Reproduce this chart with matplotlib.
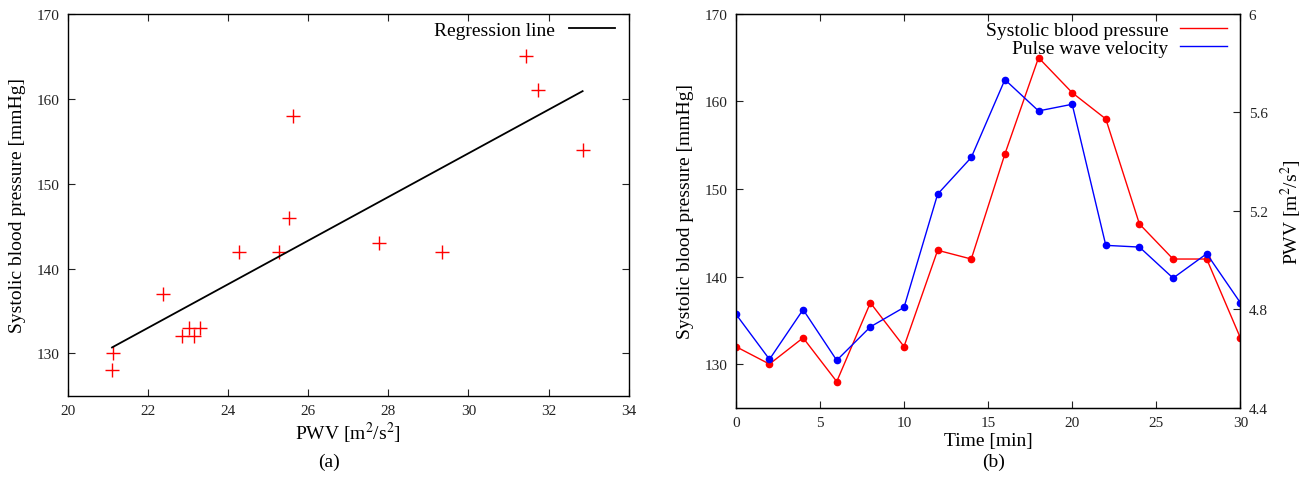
import matplotlib
matplotlib.use("Agg")
import matplotlib.pyplot as plt

# (a) scatter: PWV vs systolic blood pressure
pwv_a = [21.11, 21.13, 22.37, 22.85, 23.03, 23.14, 23.30, 24.28, 25.26, 25.52,
         25.61, 27.76, 29.35, 31.44, 31.73, 32.85]
sbp_a = [128, 130, 137, 132, 133, 132, 133, 142, 142, 146,
         158, 143, 142, 165, 161, 154]
reg_x = [21.1, 32.85]
reg_y = [130.7, 160.9]

# (b) time series
time_min = [0, 2, 4, 6, 8, 10, 12, 14, 16, 18, 20, 22, 24, 26, 28, 30]
sbp_b = [132, 130, 133, 128, 137, 132, 143, 142, 154, 165, 161, 158, 146, 142, 142, 133]
pwv_b = [4.781, 4.597, 4.799, 4.593, 4.729, 4.808, 5.268, 5.417, 5.733, 5.606,
         5.633, 5.060, 5.053, 4.927, 5.026, 4.827]

plt.rcParams["font.family"] = ["Liberation Serif", "DejaVu Serif"]
plt.rcParams["mathtext.fontset"] = "stix"
TICK_FS = 11
LAB_FS = 14

fig = plt.figure(figsize=(13.07, 4.81), dpi=100)

def style(ax, right=True):
    ax.tick_params(direction="in", length=5, width=0.8, labelsize=TICK_FS,
                   top=True, right=right, colors="#222222", pad=6)
    for s in ax.spines.values():
        s.set_linewidth(1.0)

# ---- (a)
ax = fig.add_axes([0.052, 0.175, 0.429, 0.794])
ax.plot(pwv_a, sbp_a, ls="none", marker="+", ms=10, mew=1.0, color="red")
ax.plot(reg_x, reg_y, color="black", lw=1.3, label="Regression line")
ax.set_xlim(20, 34)
ax.set_ylim(125, 170)
ax.set_xticks(range(20, 35, 2))
ax.set_yticks(range(130, 171, 10))
style(ax)
ax.set_xlabel("PWV [m$^2$/s$^2$]", fontsize=LAB_FS, labelpad=2)
ax.set_ylabel("Systolic blood pressure [mmHg]", fontsize=LAB_FS, labelpad=8)
ax.legend(loc="upper right", frameon=False, markerfirst=False, fontsize=LAB_FS,
          handlelength=2.4, borderaxespad=0.0, handletextpad=0.7,
          bbox_to_anchor=(0.99, 1.0))
fig.text(0.252, 0.03, "(a)", ha="center", fontsize=LAB_FS)

# ---- (b)
ax2 = fig.add_axes([0.563, 0.150, 0.386, 0.819])
l1, = ax2.plot(time_min, sbp_b, color="red", lw=1.0, marker="o", ms=4.5,
               label="Systolic blood pressure")
ax2.set_xlim(0, 30)
ax2.set_ylim(125, 170)
ax2.set_xticks(range(0, 31, 5))
ax2.set_yticks(range(130, 171, 10))
style(ax2, right=False)
ax2.set_xlabel("Time [min]", fontsize=LAB_FS, labelpad=2)
ax2.set_ylabel("Systolic blood pressure [mmHg]", fontsize=LAB_FS, labelpad=8)

ax3 = ax2.twinx()
l2, = ax3.plot(time_min, pwv_b, color="blue", lw=1.0, marker="o", ms=4.5,
               label="Pulse wave velocity")
ax3.set_ylim(4.4, 6.0)
ax3.set_yticks([4.4, 4.8, 5.2, 5.6, 6.0])
ax3.set_yticklabels(["4.4", "4.8", "5.2", "5.6", "6"])
ax3.tick_params(direction="in", length=5, width=0.8, labelsize=TICK_FS,
                colors="#222222", pad=6)
ax3.set_ylabel("PWV [m$^2$/s$^2$]", fontsize=LAB_FS, labelpad=8)
leg = ax3.legend([l1, l2], ["Systolic blood pressure", "Pulse wave velocity"],
                 loc="upper right", frameon=False, markerfirst=False,
                 fontsize=LAB_FS, handlelength=2.4, borderaxespad=0.0,
                 handletextpad=0.6, labelspacing=0.0,
                 bbox_to_anchor=(0.988, 1.0))
for h in leg.legend_handles:
    h.set_marker("")
fig.text(0.760, 0.03, "(b)", ha="center", fontsize=LAB_FS)

fig.savefig("out.png", dpi=100)
